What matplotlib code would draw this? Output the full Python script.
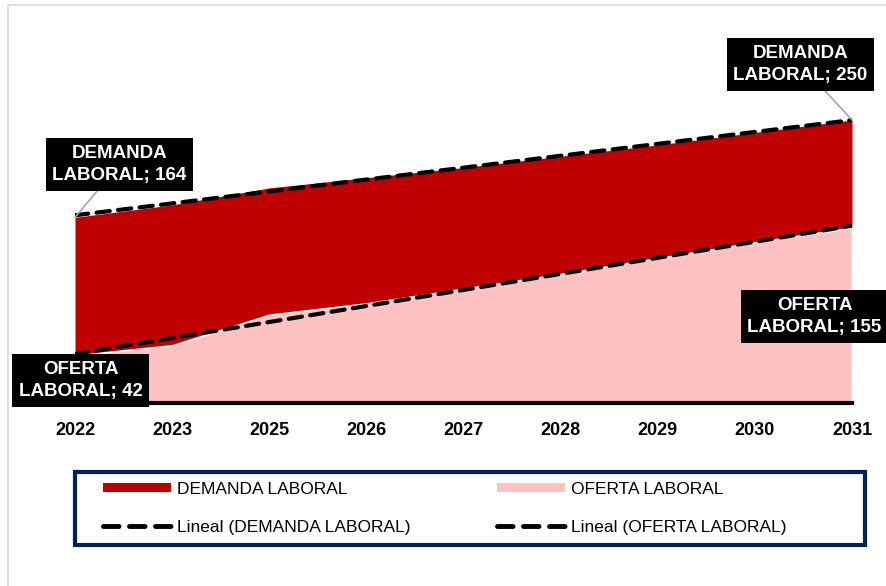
import numpy as np
import matplotlib
matplotlib.use("Agg")
import matplotlib.pyplot as plt
from matplotlib.lines import Line2D
from matplotlib.patches import Patch, Rectangle

years = ["2022", "2023", "2025", "2026", "2027", "2028", "2029", "2030", "2031"]
demanda = [164, 175, 190, 199, 208, 218, 228, 239, 250]
oferta = [42, 51, 78, 88, 101, 114, 128, 142, 155]

plt.rcParams["font.family"] = ["Liberation Sans", "DejaVu Sans"]


def trend(values):
    # Excel-style linear trendline over category index 1..n
    idx = np.arange(1, len(values) + 1)
    m, b = np.polyfit(idx, values, 1)
    return m * idx + b


def graph_plot():
    fig = plt.figure(figsize=(8.86, 5.86), dpi=100)
    fig.patches.append(Rectangle((8 / 886, -0.1), 1.2, 1 - 5 / 586 + 0.1,
                                 transform=fig.transFigure, fill=False,
                                 edgecolor="#d9d9d9", linewidth=1.2))

    ax = fig.add_axes([75 / 886, 1 - 403 / 586, 777 / 886, 300 * 1.132 / 586])
    x = np.arange(len(years))

    ax.fill_between(x, demanda, color="#C00000", linewidth=0, zorder=1)
    ax.fill_between(x, oferta, color="#FFC1C1", edgecolor="white",
                    linewidth=1.2, zorder=2)
    ax.plot(x, trend(demanda), color="black", linewidth=3,
            linestyle=(0, (3.2, 2.0)), dash_capstyle="round", zorder=3)
    ax.plot(x, trend(oferta), color="black", linewidth=3,
            linestyle=(0, (3.2, 2.0)), dash_capstyle="round", zorder=3)

    ax.set_xlim(0, len(years) - 1)
    ax.set_ylim(0, 300)
    ax.set_yticks([])
    ax.set_xticks(x)
    ax.set_xticklabels(years, fontsize=13, fontweight="bold")
    ax.tick_params(axis="x", length=0, pad=14)
    for side in ["top", "right", "left"]:
        ax.spines[side].set_visible(False)
    ax.spines["bottom"].set_linewidth(3)
    ax.spines["bottom"].set_zorder(5)
    ax.patch.set_alpha(0)

    box = dict(boxstyle="square,pad=0.35", facecolor="black", edgecolor="none")
    arrow = dict(arrowstyle="-", color="#a6a6a6", linewidth=1.2, shrinkA=0, shrinkB=0)
    labels = [
        ("DEMANDA\nLABORAL; 164", 0, demanda[0], (32, 38), arrow),
        ("DEMANDA\nLABORAL; 250", 8, demanda[-1], (-37, 40), arrow),
        ("OFERTA\nLABORAL; 42", 0, oferta[0], (4, -18), None),
        ("OFERTA\nLABORAL; 155", 8, oferta[-1], (-27, -64), None),
    ]
    for text, xi, yi, off, arr in labels:
        ax.annotate(text, xy=(xi, yi), xytext=off, textcoords="offset points",
                    ha="center", va="center", color="white", fontsize=13.5,
                    fontweight="bold", bbox=box, arrowprops=arr,
                    linespacing=1.4, annotation_clip=False, zorder=6)

    # legend frame
    fig.patches.append(Rectangle((75 / 886, 1 - 545 / 586), 790 / 886, 73 / 586,
                                 transform=fig.transFigure, fill=False,
                                 edgecolor="#002060", linewidth=3))
    handles = [
        Patch(facecolor="#C00000", edgecolor="none"),
        Line2D([], [], color="black", linewidth=3.5, linestyle=(0, (3.2, 2.15)),
               dash_capstyle="round"),
        Patch(facecolor="#FFC1C1", edgecolor="none"),
        Line2D([], [], color="black", linewidth=3.5, linestyle=(0, (3.2, 2.15)),
               dash_capstyle="round"),
    ]
    names = ["DEMANDA LABORAL", "Lineal (DEMANDA LABORAL)",
             "OFERTA LABORAL", "Lineal (OFERTA LABORAL)"]
    fig.legend(handles, names, ncol=2, loc="upper left",
               bbox_to_anchor=(103 / 886, 1 - 482 / 586),
               fontsize=12.5, frameon=False, borderpad=0, borderaxespad=0,
               handlelength=3.9, handleheight=0.45, handletextpad=0.35,
               labelspacing=1.3, columnspacing=5.0)

    fig.savefig("out.png", dpi=100)


if __name__ == "__main__":
    graph_plot()
